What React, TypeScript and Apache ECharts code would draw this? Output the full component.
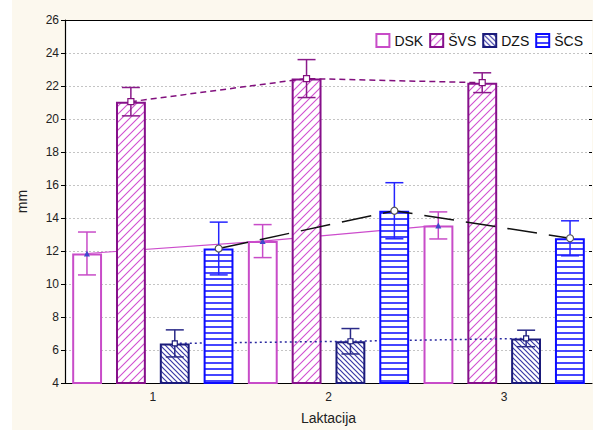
import React, { useEffect, useRef } from "react";
import * as echarts from "echarts";

const categories = ["1", "2", "3"];
const seriesNames = ["DSK", "ŠVS", "DZS", "ŠCS"];

const dskMean = [11.85, 12.6, 13.55];
const dskErr = [1.3, 1.0, 0.82];
const svsMean = [21.05, 22.45, 22.2];
const svsErr = [0.86, 1.15, 0.6];
const dzsMean = [6.4, 6.53, 6.7];
const dzsErr = [0.82, 0.77, 0.5];
const scsMean = [12.15, 14.44, 12.77];
const scsErr = [1.6, 1.7, 1.06];

const yMin = 4;
const yMax = 26;
const yStep = 2;

const FONT = "Liberation Sans, Arial, sans-serif";

function makePattern(kind: string): HTMLCanvasElement {
  const c = document.createElement("canvas");
  const ctx = c.getContext("2d")!;
  if (kind === "fwd") {
    c.width = 8;
    c.height = 8;
    ctx.fillStyle = "#ffffff";
    ctx.fillRect(0, 0, 8, 8);
    ctx.strokeStyle = "#d050d0";
    ctx.lineWidth = 1.1;
    ctx.beginPath();
    ctx.moveTo(-1, 9);
    ctx.lineTo(9, -1);
    ctx.moveTo(-1, 1);
    ctx.lineTo(1, -1);
    ctx.moveTo(7, 9);
    ctx.lineTo(9, 7);
    ctx.stroke();
  } else if (kind === "back") {
    c.width = 5;
    c.height = 5;
    ctx.fillStyle = "#ffffff";
    ctx.fillRect(0, 0, 5, 5);
    ctx.strokeStyle = "#3a3aa6";
    ctx.lineWidth = 1.2;
    ctx.beginPath();
    ctx.moveTo(-1, -1);
    ctx.lineTo(6, 6);
    ctx.moveTo(4, -1);
    ctx.lineTo(6, 1);
    ctx.moveTo(-1, 4);
    ctx.lineTo(1, 6);
    ctx.stroke();
  } else {
    c.width = 6;
    c.height = 6;
    ctx.fillStyle = "#ffffff";
    ctx.fillRect(0, 0, 6, 6);
    ctx.fillStyle = "#4646ff";
    ctx.fillRect(0, 2, 6, 2);
  }
  return c;
}

export default function App() {
  const ref = useRef<HTMLDivElement>(null);

  useEffect(() => {
    if (!ref.current) return;
    const chart = echarts.init(ref.current, null, { renderer: "svg" });

    const means = [dskMean, svsMean, dzsMean, scsMean];
    const errs = [dskErr, svsErr, dzsErr, scsErr];
    const offsets = [-0.375, -0.125, 0.125, 0.375];

    const barStyles: any[] = [
      { color: "#ffffff", borderColor: "#c84cc8", borderWidth: 2 },
      { color: { image: makePattern("fwd"), repeat: "repeat" }, borderColor: "#86108a", borderWidth: 2 },
      { color: { image: makePattern("back"), repeat: "repeat" }, borderColor: "#1a1a7a", borderWidth: 2 },
      { color: { image: makePattern("stripe"), repeat: "repeat" }, borderColor: "#0c0cff", borderWidth: 2 },
    ];
    const errColors = ["#c84cc8", "#8a1a8a", "#2a2a88", "#2424ff"];
    const lineStyles: any[] = [
      { color: "#cc4ccc", width: 1.2, type: "solid" },
      { color: "#82107e", width: 1.5, type: [6, 4] },
      { color: "#2a2aa0", width: 1.5, type: [2, 3] },
      { color: "#111111", width: 1.5, type: [30, 12] },
    ];
    const symbols: any[] = [
      { symbol: "triangle", size: 6, itemStyle: { color: "#3f48cc", borderWidth: 0 } },
      { symbol: "rect", size: 6, itemStyle: { color: "#ffffff", borderColor: "#82107e", borderWidth: 1.2 } },
      { symbol: "rect", size: 5, itemStyle: { color: "#ffffff", borderColor: "#1a1a7a", borderWidth: 1.2 } },
      { symbol: "circle", size: 7, itemStyle: { color: "#ffffff", borderColor: "#555555", borderWidth: 1.2 } },
    ];

    const series: any[] = [];
    seriesNames.forEach((name, g) => {
      series.push({
        name,
        type: "bar",
        xAxisIndex: 0,
        yAxisIndex: 0,
        data: means[g],
        barWidth: "17%",
        barGap: "46.7%",
        itemStyle: barStyles[g],
        z: 2 + g * 3,
        silent: true,
      });
      series.push({
        name: name + " err",
        type: "custom",
        xAxisIndex: 1,
        yAxisIndex: 0,
        z: 3 + g * 3,
        silent: true,
        data: means[g].map((m, i) => [i + 1 + offsets[g], m - errs[g][i], m + errs[g][i]]),
        renderItem: (params: any, api: any) => {
          const x = api.value(0);
          const lo = api.coord([x, api.value(1)]);
          const hi = api.coord([x, api.value(2)]);
          const style = { stroke: errColors[g], lineWidth: 1.5 };
          return {
            type: "group",
            children: [
              { type: "line", shape: { x1: lo[0], y1: lo[1], x2: hi[0], y2: hi[1] }, style },
              { type: "line", shape: { x1: lo[0] - 9, y1: lo[1], x2: lo[0] + 9, y2: lo[1] }, style },
              { type: "line", shape: { x1: hi[0] - 9, y1: hi[1], x2: hi[0] + 9, y2: hi[1] }, style },
            ],
          };
        },
      });
      series.push({
        name,
        type: "line",
        xAxisIndex: 1,
        yAxisIndex: 0,
        z: 4 + g * 3,
        silent: true,
        data: means[g].map((m, i) => [i + 1 + offsets[g], m]),
        lineStyle: lineStyles[g],
        symbol: symbols[g].symbol,
        symbolSize: symbols[g].size,
        showSymbol: true,
        itemStyle: symbols[g].itemStyle,
      });
    });

    chart.setOption({
      animation: false,
      backgroundColor: "#ffffff",
      graphic: [
        {
          type: "rect",
          shape: { x: 12, y: 0, width: 600, height: 430 },
          style: { fill: "#fcf8ee" },
          z: -10,
          silent: true,
        },
      ],
      grid: {
        left: 65,
        right: 1,
        top: 20,
        bottom: 47,
        show: true,
        backgroundColor: "#ffffff",
        borderWidth: 0,
      },
      legend: {
        data: seriesNames.map((n) => ({ name: n, icon: "rect" })),
        right: 5,
        top: 28,
        itemWidth: 13,
        itemHeight: 13,
        itemGap: 6,
        textStyle: { fontFamily: FONT, fontSize: 14, color: "#111" },
        selectedMode: false,
      },
      xAxis: [
        {
          type: "category",
          data: categories,
          position: "bottom",
          axisLine: { lineStyle: { color: "#000", width: 1.2 } },
          axisTick: { inside: true, alignWithLabel: true, length: 3, lineStyle: { color: "#000" } },
          axisLabel: { fontFamily: FONT, fontSize: 12, color: "#222", margin: 8 },
          name: "Laktacija",
          nameLocation: "middle",
          nameGap: 28,
          nameTextStyle: { fontFamily: FONT, fontSize: 14, color: "#222" },
        },
        {
          type: "value",
          min: 0.5,
          max: 3.5,
          position: "top",
          axisLine: { show: true, lineStyle: { color: "#000", width: 1.2 } },
          axisTick: { show: false },
          axisLabel: { show: false },
          splitLine: { show: false },
        },
      ],
      yAxis: [
        {
          type: "value",
          min: yMin,
          max: yMax,
          interval: yStep,
          position: "left",
          axisLine: { show: true, lineStyle: { color: "#000", width: 1.2 } },
          axisTick: { show: true, inside: false, length: 4, lineStyle: { color: "#000" } },
          axisLabel: { fontFamily: FONT, fontSize: 12, color: "#222", margin: 6 },
          splitLine: { show: true, lineStyle: { color: "#c4c4c4", type: [2, 2], width: 1 } },
          name: "mm",
          nameLocation: "middle",
          nameGap: 36,
          nameTextStyle: { fontFamily: FONT, fontSize: 14, color: "#222" },
        },
        {
          type: "value",
          min: yMin,
          max: yMax,
          interval: yStep,
          position: "right",
          axisLine: { show: false },
          axisTick: { show: true, inside: true, length: 3, lineStyle: { color: "#000" } },
          axisLabel: { show: false },
          splitLine: { show: false },
        },
      ],
      series,
    });

    return () => chart.dispose();
  }, []);

  return (
    <div
      ref={ref}
      style={{ position: "fixed", left: 0, top: 0, width: 593, height: 430 }}
    />
  );
}
